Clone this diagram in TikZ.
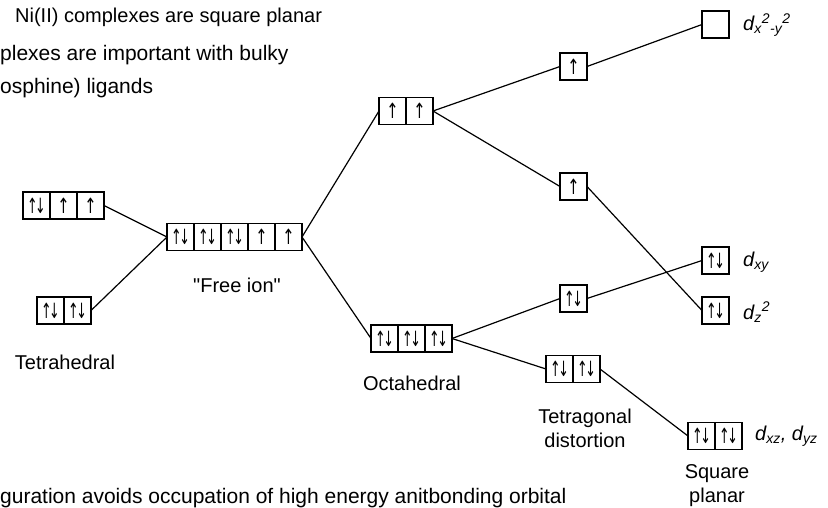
\documentclass[tikz,border=0pt]{standalone}
\usepackage{fontspec}
\usepackage{graphicx}
\setmainfont{Liberation Sans}
\newfontfamily\arrfont{DejaVu Sans}
\newcommand\uparr{\scalebox{0.7}[1]{↑}}
\newcommand\pairarr{\scalebox{0.6}[1]{↑}\kern-2.5pt\scalebox{0.6}[1]{↓}}
\newcommand\emptyorb{\relax}
\newcommand\orbrow[4]{%
  \foreach \c [count=\i] in {#4}{%
    \node[cell, anchor=west] (#1-\i) at ({#2+27*(\i-1)},#3) {\c};}}
\begin{document}
\begin{tikzpicture}[x=1pt,y=-1pt,
  cell/.style={draw, line width=1.4pt, minimum width=27pt, minimum height=27pt,
    inner sep=0pt, outer sep=0pt, font=\arrfont\fontsize{21}{21}\selectfont},
  conn/.style={line width=1.2pt},
  lbl/.style={font=\fontsize{20}{24}\selectfont, inner sep=0pt, align=center},
  note/.style={font=\fontsize{21}{24}\selectfont, inner sep=0pt, anchor=base west},
  orblbl/.style={font=\fontsize{20}{24}\selectfont\itshape, anchor=west, inner sep=0pt}]
\useasboundingbox (0,0) rectangle (828,508);

% orbital boxes
\orbrow{tt}{23}{205.5}{\pairarr,\uparr,\uparr}
\orbrow{tb}{37}{310.5}{\pairarr,\pairarr}
\orbrow{fi}{167}{237}{\pairarr,\pairarr,\pairarr,\uparr,\uparr}
\orbrow{ou}{379}{111}{\uparr,\uparr}
\orbrow{ol}{371}{338.5}{\pairarr,\pairarr,\pairarr}
\orbrow{sa}{560}{66.5}{\uparr}
\orbrow{sb}{560}{186.5}{\uparr}
\orbrow{sc}{560}{298.5}{\pairarr}
\orbrow{tg}{546}{369}{\pairarr,\pairarr}
\orbrow{ea}{702}{24.5}{\emptyorb}
\orbrow{eb}{702}{260.5}{\pairarr}
\orbrow{ec}{702}{310.5}{\pairarr}
\orbrow{sp}{688}{436}{\pairarr,\pairarr}

% connectors
\draw[conn] (tt-3.east) -- (fi-1.west);
\draw[conn] (tb-2.east) -- (fi-1.west);
\draw[conn] (fi-5.east) -- (ou-1.west);
\draw[conn] (fi-5.east) -- (ol-1.west);
\draw[conn] (ou-2.east) -- (sa-1.west);
\draw[conn] (ou-2.east) -- (sb-1.west);
\draw[conn] (sa-1.east) -- (ea-1.west);
\draw[conn] (sb-1.east) -- (ec-1.west);
\draw[conn] (ol-3.east) -- (sc-1.west);
\draw[conn] (ol-3.east) -- (tg-1.west);
\draw[conn] (sc-1.east) -- (eb-1.west);
\draw[conn] (tg-2.east) -- (sp-1.west);

% labels
\node[lbl] (lfi) at (237,285) {\addfontfeature{Ligatures=TeXOff}"Free ion"};
\node[lbl] (ltd) at (65,362) {Tetrahedral};
\node[lbl] (loh) at (412,383) {Octahedral};
\node[lbl] (ltg) at (585,428) {Tetragonal\\distortion};
\node[lbl] (lsp) at (717,486) {Square\\planar};

\node[orblbl] (lea) at (743,25) {d\textsubscript{x}\textsuperscript{2}\textsubscript{-y}\textsuperscript{2}};
\node[orblbl] (leb) at (743,262) {d\textsubscript{xy}};
\node[orblbl] (lec) at (743,312) {d\textsubscript{z}\textsuperscript{2}};
\node[orblbl] (lsp2) at (755,436) {d\textsubscript{xz}, d\textsubscript{yz}};

% notes
\node[note, font=\fontsize{20}{24}\selectfont] (n1) at (15,23) {Ni(II) complexes are square planar};
\node[note] (n2) at (0,61) {plexes are important with bulky};
\node[note] (n3) at (0,94) {osphine) ligands};
\node[note] (n4) at (0,503) {guration avoids occupation of high energy anitbonding orbital};
\end{tikzpicture}
\end{document}
